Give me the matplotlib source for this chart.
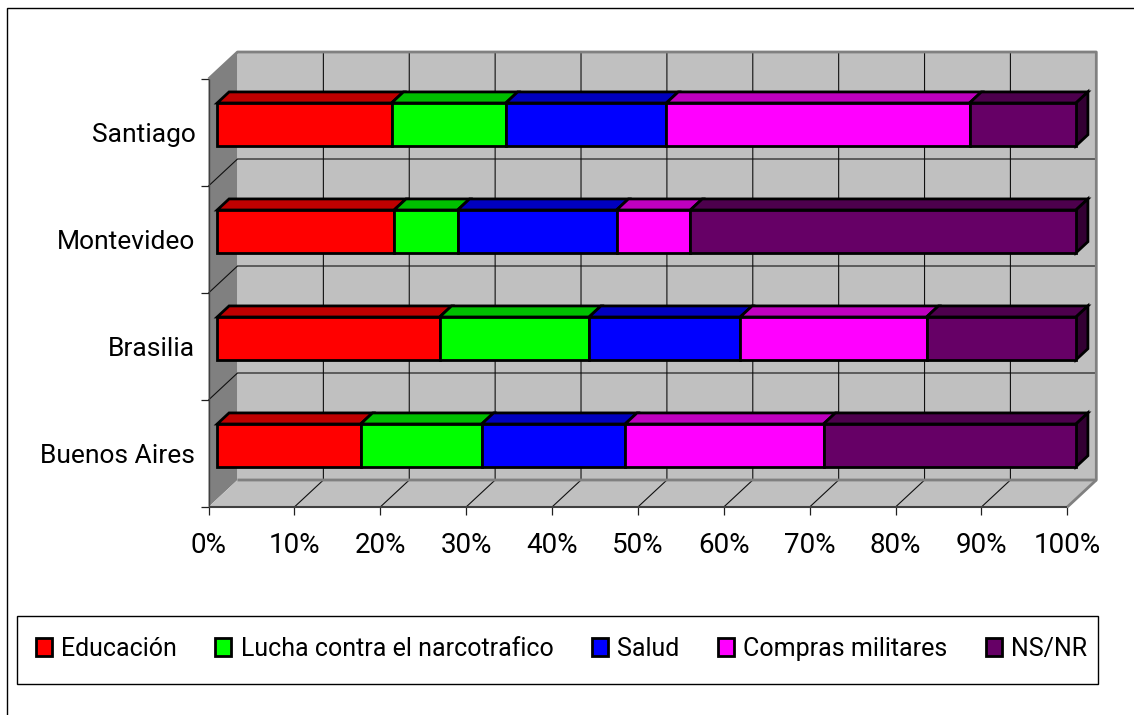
import matplotlib
matplotlib.use("Agg")
import matplotlib.pyplot as plt
from matplotlib.patches import Patch, Rectangle
import numpy as np

cities = ["Buenos Aires", "Brasilia", "Montevideo", "Santiago"]
series = ["Educación", "Lucha contra el narcotrafico", "Salud", "Compras militares", "NS/NR"]
educacion = [16.7, 25.9, 20.6, 20.3]
lucha = [14.1, 17.4, 7.4, 13.3]
salud = [16.7, 17.6, 18.5, 18.7]
compras = [23.1, 21.7, 8.6, 35.3]
nsnr = [29.4, 17.4, 44.9, 12.4]
values = [educacion, lucha, salud, compras, nsnr]
colors = ["#FF0000", "#00FF00", "#0000FF", "#FF00FF", "#660066"]
x_ticks = list(range(0, 101, 10))

plt.rcParams["font.family"] = "Roboto"

W, H = 1134, 715
fig = plt.figure(figsize=(W / 100, H / 100), dpi=100)
L, R, T, B = 208.5, 1067.3, 79, 507
ax = fig.add_axes([L / W, 1 - B / H, (R - L) / W, (B - T) / H])
ax.set_xlim(0, 100)
ax.set_ylim(0, 4)
for s in ax.spines.values():
    s.set_visible(False)
ax.patch.set_visible(False)

# oblique depth of the chart box, in axis units per unit of depth
DX = 29 / (R - L) * 100
DY = 27 / (B - T) * 4


def proj(x, y, d):
    return x + DX * d, y + DY * d


def face(pts, color, z, edge="none", lw=0):
    xy = [proj(*p) for p in pts]
    ax.fill([p[0] for p in xy], [p[1] for p in xy], facecolor=color, edgecolor=edge,
            linewidth=lw, zorder=z, clip_on=False, joinstyle="miter")


def line(pts, color="black", lw=0.8, z=2):
    xy = [proj(*p) for p in pts]
    ax.plot([p[0] for p in xy], [p[1] for p in xy], color=color, lw=lw, zorder=z,
            clip_on=False, solid_capstyle="butt")


# walls and floor
face([(0, 0, 0), (0, 4, 0), (0, 4, 1), (0, 0, 1)], "#808080", 1)
face([(0, 0, 1), (100, 0, 1), (100, 4, 1), (0, 4, 1)], "#C0C0C0", 1)
face([(0, 0, 0), (100, 0, 0), (100, 0, 1), (0, 0, 1)], "#C0C0C0", 1)

# gridlines
for x in x_ticks[1:-1]:
    line([(x, 0, 0), (x, 0, 1), (x, 4, 1)], "#101010")
for y in range(1, 4):
    line([(0, y, 0), (0, y, 1), (100, y, 1)], "#101010")

# box edges
line([(0, 4, 0), (0, 4, 1), (100, 4, 1), (100, 0, 1), (0, 0, 1)], "#808080", 2.0, 2.5)
line([(100, 0, 0), (100, 0, 1)], "#808080", 2.0, 2.5)
line([(0, 0, 0), (100, 0, 0)], "#404040", 1.5, 3)
line([(0, 0, 0), (0, 4, 0)], "#404040", 1.0, 3)

# stacked 3D bars
D0, D1 = 0.30, 0.71
HALF = 0.2
EDGE = 2.0
arr = np.array(values)
for i in range(len(cities)):
    yc = i + 0.5
    lo, hi = yc - HALF, yc + HALF
    left = 0.0
    for j in range(len(series)):
        right = left + arr[j, i]
        base = np.array(matplotlib.colors.to_rgb(colors[j]))
        z = 5 + j * 0.01
        face([(left, hi, D0), (right, hi, D0), (right, hi, D1), (left, hi, D1)], tuple(base * 0.75), z, "black", EDGE)
        face([(left, lo, D0), (right, lo, D0), (right, hi, D0), (left, hi, D0)], tuple(base), z + 0.5, "black", EDGE)
        if j == len(series) - 1:
            face([(right, lo, D0), (right, lo, D1), (right, hi, D1), (right, hi, D0)], tuple(base * 0.5), z, "black", EDGE)
        left = right

# axes ticks and labels
ax.set_xticks(x_ticks, [f"{v}%" for v in x_ticks], fontsize=20)
ax.tick_params(axis="x", length=5.5, width=0.9, color="#202020", pad=12.5)
ax.set_yticks(range(5), [""] * 5)
ax.tick_params(axis="y", which="major", length=5.5, width=0.9, color="#202020")
ax.set_yticks([i + 0.5 for i in range(4)], cities, minor=True, fontsize=19)
ax.tick_params(axis="y", which="minor", length=0, pad=9.5)

# legend box and entries
fig.add_artist(Rectangle((17 / W, 1 - 684 / H), (1098 - 17) / W, 68 / H, transform=fig.transFigure,
                         facecolor="white", edgecolor="black", linewidth=1.0, zorder=1))
handles = [Patch(facecolor=c, edgecolor="black", linewidth=2.0) for c in colors]
leg = fig.legend(handles, series, ncol=5, loc="center left",
                 bbox_to_anchor=(35.5 / W, 1 - 649 / H),
                 fontsize=18, frameon=False,
                 handlelength=0.64, handleheight=0.74, handletextpad=0.39, columnspacing=1.52,
                 borderaxespad=0, borderpad=0)
leg.set_zorder(2)

# outer chart frame
fig.add_artist(Rectangle((7 / W, -0.1), 1.2, 1.1 - 8 / H, transform=fig.transFigure,
                         facecolor="none", edgecolor="black", linewidth=1.0))

fig.savefig("out.png", dpi=100)
